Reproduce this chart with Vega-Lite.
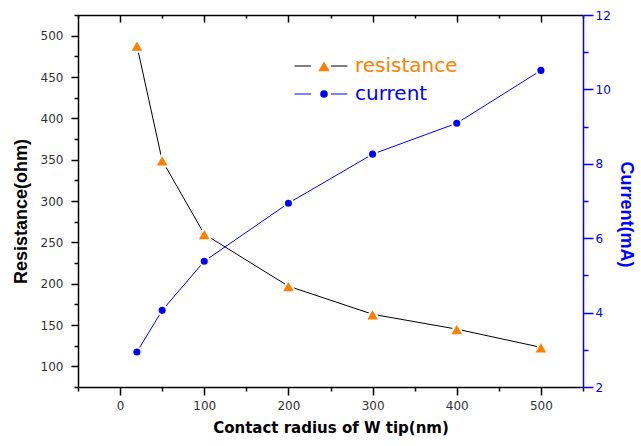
{
  "$schema": "https://vega.github.io/schema/vega-lite/v6.json",
  "width": 505,
  "height": 372,
  "autosize": "none",
  "padding": {"left": 78, "top": 15, "right": 58, "bottom": 59},
  "background": "white",
  "config": {
    "view": {"stroke": null},
    "axis": {
      "grid": false,
      "labelFont": "DejaVu Sans",
      "labelFontSize": 12,
      "labelColor": "#333333",
      "domainColor": "#000000",
      "tickColor": "#000000",
      "domainWidth": 1.5,
      "tickWidth": 1.5,
      "labelOverlap": false,
      "labelFlush": false,
      "labelBound": false,
      "titleFont": "Liberation Sans",
      "titleFontWeight": "bold",
      "titleFontSize": 18,
      "titleColor": "#000000"
    }
  },
  "data": {
    "values": [
      {"radius": 20, "series": "resistance", "value": 488},
      {"radius": 50, "series": "resistance", "value": 349},
      {"radius": 100, "series": "resistance", "value": 260},
      {"radius": 200, "series": "resistance", "value": 197},
      {"radius": 300, "series": "resistance", "value": 163},
      {"radius": 400, "series": "resistance", "value": 145},
      {"radius": 500, "series": "resistance", "value": 123},
      {"radius": 20, "series": "current", "value": 2.94},
      {"radius": 50, "series": "current", "value": 4.06},
      {"radius": 100, "series": "current", "value": 5.38},
      {"radius": 200, "series": "current", "value": 6.94},
      {"radius": 300, "series": "current", "value": 8.26},
      {"radius": 400, "series": "current", "value": 9.09},
      {"radius": 500, "series": "current", "value": 10.51}
    ]
  },
  "layer": [
    {
      "transform": [{"filter": "datum.series === 'resistance'"}],
      "encoding": {
        "x": {
          "field": "radius",
          "type": "quantitative",
          "scale": {"domain": [-50, 550], "nice": false, "zero": false},
          "axis": {
            "orient": "bottom",
            "values": [-50, 0, 50, 100, 150, 200, 250, 300, 350, 400, 450, 500, 550],
            "labelExpr": "datum.value % 100 === 0 && datum.value >= 0 && datum.value <= 500 ? datum.label : ''",
            "tickSize": {"condition": {"test": "datum.value % 100 === 0", "value": 8}, "value": 4},
            "labelPadding": 5,
            "title": "Contact radius of W tip(nm)",
            "titleFont": "DejaVu Sans",
            "titleFontSize": 15,
            "titlePadding": 9
          }
        },
        "y": {
          "field": "value",
          "type": "quantitative",
          "scale": {"domain": [75, 525], "nice": false, "zero": false},
          "axis": {
            "orient": "left",
            "values": [75, 100, 125, 150, 175, 200, 225, 250, 275, 300, 325, 350, 375, 400, 425, 450, 475, 500, 525],
            "labelExpr": "datum.value % 50 === 0 ? datum.label : ''",
            "tickSize": {"condition": {"test": "datum.value % 50 === 0", "value": 7}, "value": 4},
            "labelPadding": 8,
            "title": "Resistance(ohm)",
            "titlePadding": 10,
            "titleY": 196
          }
        }
      },
      "layer": [
        {
          "mark": {"type": "line", "strokeWidth": 1},
          "encoding": {
            "stroke": {
              "field": "series",
              "type": "nominal",
              "sort": "descending",
              "scale": {"range": ["#000000", "#0000ff"]},
              "legend": {
                "orient": "none",
                "legendX": 216,
                "legendY": 41,
                "padding": 0,
                "title": null,
                "symbolType": "M-1,0H-0.38M0.38,0H1",
                "symbolSize": 2809,
                "symbolStrokeWidth": 1,
                "labelExpr": "''",
                "clipHeight": 20,
                "rowPadding": 8
              }
            }
          }
        },
        {
          "mark": {"type": "point", "filled": true, "opacity": 1, "stroke": "white", "strokeWidth": 2},
          "encoding": {
            "fill": {
              "field": "series",
              "type": "nominal",
              "scale": {"domain": ["resistance", "current"], "range": ["#ff8000", "#0000ff"]},
              "legend": {
                "orient": "none",
                "legendX": 236,
                "legendY": 41,
                "padding": 0,
                "title": null,
                "labelFont": "DejaVu Sans",
                "labelFontSize": 20,
                "labelOffset": 21,
                "clipHeight": 20,
                "rowPadding": 8,
                "labelColor": {"expr": "datum.value === 'resistance' ? '#ff8000' : '#0000ff'"},
                "encoding": {"labels": {"update": {"fill": {"signal": "datum.value === 'resistance' ? '#ff8000' : '#0000ff'"}}}}
              }
            },
            "shape": {
              "field": "series",
              "type": "nominal",
              "scale": {"domain": ["resistance", "current"], "range": ["triangle-up", "circle"]},
              "legend": {
                "orient": "none",
                "legendX": 236,
                "legendY": 41,
                "padding": 0,
                "title": null,
                "labelFont": "DejaVu Sans",
                "labelFontSize": 20,
                "labelOffset": 21,
                "clipHeight": 20,
                "rowPadding": 8,
                "labelColor": {"expr": "datum.value === 'resistance' ? '#ff8000' : '#0000ff'"},
                "encoding": {"labels": {"update": {"fill": {"signal": "datum.value === 'resistance' ? '#ff8000' : '#0000ff'"}}}}
              }
            },
            "size": {
              "field": "series",
              "type": "nominal",
              "scale": {"type": "ordinal", "domain": ["resistance", "current"], "range": [200, 83]},
              "legend": {
                "orient": "none",
                "legendX": 236,
                "legendY": 41,
                "padding": 0,
                "title": null,
                "labelFont": "DejaVu Sans",
                "labelFontSize": 20,
                "labelOffset": 21,
                "clipHeight": 20,
                "rowPadding": 8,
                "labelColor": {"expr": "datum.value === 'resistance' ? '#ff8000' : '#0000ff'"},
                "encoding": {"labels": {"update": {"fill": {"signal": "datum.value === 'resistance' ? '#ff8000' : '#0000ff'"}}}}
              }
            }
          }
        }
      ]
    },
    {
      "transform": [{"filter": "datum.series === 'current'"}],
      "encoding": {
        "x": {
          "field": "radius",
          "type": "quantitative",
          "scale": {"domain": [-50, 550], "nice": false, "zero": false},
          "axis": {
            "orient": "top",
            "values": [-50, 0, 50, 100, 150, 200, 250, 300, 350, 400, 450, 500, 550],
            "labels": false,
            "tickSize": {"condition": {"test": "datum.value % 100 === 0", "value": -7}, "value": -3},
            "title": null
          }
        },
        "y": {
          "field": "value",
          "type": "quantitative",
          "scale": {"domain": [2, 12], "nice": false, "zero": false},
          "axis": {
            "orient": "right",
            "values": [2, 3, 4, 5, 6, 7, 8, 9, 10, 11, 12],
            "labelExpr": "datum.value % 2 === 0 ? datum.label : ''",
            "tickSize": {"condition": {"test": "datum.value % 2 === 0", "value": 10}, "value": 5},
            "labelPadding": 2,
            "domainColor": "#0000ff",
            "tickColor": "#0000ff",
            "labelColor": "#0000ff",
            "titleColor": "#0000ff",
            "title": "Current(mA)",
            "titlePadding": 6,
            "titleY": 199
          }
        }
      },
      "layer": [
        {
          "mark": {"type": "line", "strokeWidth": 1},
          "encoding": {
            "stroke": {
              "field": "series",
              "type": "nominal",
              "sort": "descending",
              "scale": {"range": ["#000000", "#0000ff"]}
            }
          }
        },
        {
          "mark": {"type": "point", "filled": true, "opacity": 1, "stroke": "white", "strokeWidth": 2},
          "encoding": {
            "fill": {
              "field": "series",
              "type": "nominal",
              "scale": {"domain": ["resistance", "current"], "range": ["#ff8000", "#0000ff"]}
            },
            "shape": {
              "field": "series",
              "type": "nominal",
              "scale": {"domain": ["resistance", "current"], "range": ["triangle-up", "circle"]}
            },
            "size": {
              "field": "series",
              "type": "nominal",
              "scale": {"type": "ordinal", "domain": ["resistance", "current"], "range": [200, 83]}
            }
          }
        }
      ]
    }
  ],
  "resolve": {"scale": {"y": "independent"}, "axis": {"x": "independent", "y": "independent"}}
}
